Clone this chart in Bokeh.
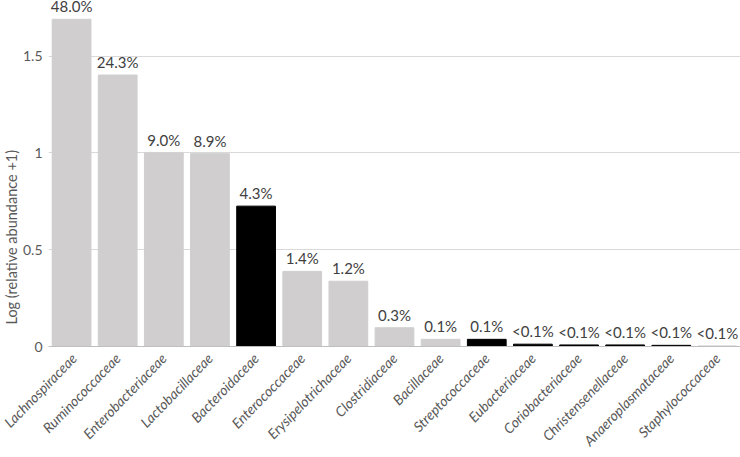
import math
from bokeh.plotting import figure
from bokeh.models import ColumnDataSource, FactorRange, FixedTicker, Title
from bokeh.embed import file_html
from bokeh.resources import INLINE
from bokeh.core.properties import value

families = ["Lachnospiraceae", "Ruminococcaceae", "Enterobacteriaceae", "Lactobacillaceae",
            "Bacteroidaceae", "Enterococcaceae", "Erysipelotrichaceae", "Clostridiaceae",
            "Bacillaceae", "Streptococcaceae", "Eubacteriaceae", "Coriobacteriaceae",
            "Christensenellaceae", "Anaeroplasmataceae", "Staphylococcaceae"]
log_abundance = [1.690, 1.402, 1.000, 0.996, 0.725, 0.388, 0.337, 0.097,
                 0.037, 0.037, 0.012, 0.008, 0.008, 0.006, 0.003]
pct_labels = ["48.0%", "24.3%", "9.0%", "8.9%", "4.3%", "1.4%", "1.2%", "0.3%",
              "0.1%", "0.1%", "<0.1%", "<0.1%", "<0.1%", "<0.1%", "<0.1%"]
bar_colors = ["#d0cece", "#d0cece", "#d0cece", "#d0cece", "#000000", "#d0cece", "#d0cece",
              "#d0cece", "#d0cece", "#000000", "#000000", "#000000", "#000000", "#000000",
              "#d0cece"]
y_ticks = [0, 0.5, 1, 1.5]
y_tick_labels = {0: "0", 0.5: "0.5", 1: "1", 1.5: "1.5"}
y_title = "Log (relative abundance +1)"

src = ColumnDataSource(dict(x=families, y=log_abundance, lab=pct_labels, c=bar_colors))

p = figure(x_range=FactorRange(*families), y_range=(0, 1.787), width=740, height=457,
           output_backend="svg", toolbar_location=None,
           min_border_left=0, min_border_right=0, min_border_top=0, min_border_bottom=108)
p.outline_line_color = None
p.background_fill_color = "white"

p.vbar(x="x", top="y", width=0.84, color="c", source=src)
p.text(x="x", y="y", text="lab", source=src, y_offset=-4, text_align="center",
       text_baseline="bottom", text_font=value("Lato"), text_font_size="15px",
       text_color="#404040")

p.xgrid.grid_line_color = None
p.ygrid.grid_line_color = "#d9d9d9"
p.ygrid.ticker = FixedTicker(ticks=y_ticks)

p.yaxis.ticker = FixedTicker(ticks=y_ticks)
p.yaxis.major_label_overrides = y_tick_labels
p.yaxis.axis_line_color = None
p.yaxis.major_tick_line_color = None
p.yaxis.minor_tick_line_color = None
p.yaxis.major_tick_out = 0
p.yaxis.minor_tick_out = 0
p.yaxis.major_label_text_font = "Lato"
p.yaxis.major_label_text_font_size = "14px"
p.yaxis.major_label_text_color = "#595959"
p.yaxis.major_label_standoff = 6

y_title_obj = Title(text=y_title, align="left", offset=22, standoff=0,
                    text_font="Lato", text_font_size="14.5px", text_font_style="normal",
                    text_color="#595959")
p.add_layout(y_title_obj, "left")

p.xaxis.axis_line_color = "#bfbfbf"
p.xaxis.major_tick_line_color = None
p.xaxis.minor_tick_line_color = None
p.xaxis.major_tick_out = 0
p.xaxis.minor_tick_out = 0
p.xaxis.major_label_orientation = 0.8
p.xaxis.major_label_text_font = "Lato"
p.xaxis.major_label_text_font_style = "italic"
p.xaxis.major_label_text_font_size = "14px"
p.xaxis.major_label_text_color = "#595959"
p.xaxis.major_label_standoff = 9

open("out.html", "w").write(file_html(p, INLINE))
